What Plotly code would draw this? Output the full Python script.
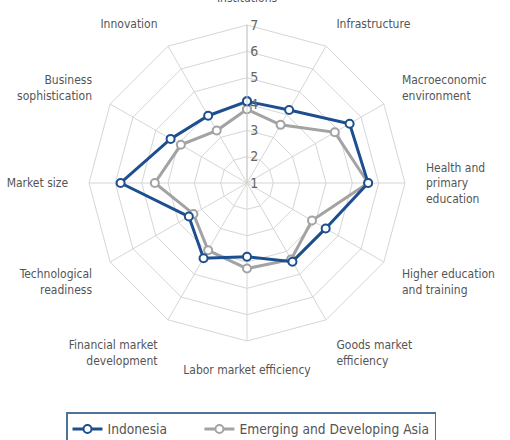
import plotly.graph_objects as go

categories = ["Institutions", "Infrastructure", "Macroeconomic environment",
              "Health and primary education", "Higher education and training",
              "Goods market efficiency", "Labor market efficiency",
              "Financial market development", "Technological readiness",
              "Market size", "Business sophistication", "Innovation"]
tick_labels = ["Institutions", "Infrastructure", "Macroeconomic<br>environment",
               "Health and<br>primary<br>education", "Higher education<br>and training",
               "Goods market<br>efficiency", "Labor market efficiency",
               "Financial market<br>development", "Technological<br>readiness",
               "Market size", "Business<br>sophistication", "Innovation"]
indonesia = [4.1, 4.2, 5.5, 5.6, 4.45, 4.45, 3.8, 4.3, 3.55, 5.8, 4.35, 3.95]
asia = [3.8, 3.55, 4.85, 5.6, 3.85, 4.35, 4.25, 3.95, 3.35, 4.5, 3.9, 3.3]
radial_ticks = [1, 2, 3, 4, 5, 6, 7]

FONT = "DejaVu Sans Condensed, Liberation Sans Narrow, Roboto, sans-serif"
NB = "\u00a0"

fig = go.Figure()
fig.add_trace(go.Scatterpolar(
    r=asia + asia[:1], theta=categories + categories[:1],
    name="Emerging and Developing Asia", mode="lines+markers",
    line=dict(color="#a3a3a3", width=3),
    marker=dict(symbol="circle", size=8, color="white",
                line=dict(color="#a3a3a3", width=2)),
))
fig.add_trace(go.Scatterpolar(
    r=indonesia + indonesia[:1], theta=categories + categories[:1],
    name="Indonesia" + NB * 7, mode="lines+markers",
    line=dict(color="#1d4f8f", width=3),
    marker=dict(symbol="circle", size=8, color="white",
                line=dict(color="#1d4f8f", width=2)),
))

W, H = 510, 440
fig.update_layout(
    width=W, height=H,
    margin=dict(l=0, r=0, t=25, b=99, autoexpand=False),
    paper_bgcolor="white",
    font=dict(family=FONT, size=12, color="#555555"),
    polar=dict(
        bgcolor="white",
        gridshape="linear",
        domain=dict(x=[89 / W, 405 / W], y=[0, 1]),
        radialaxis=dict(
            range=[1, 7], tickvals=radial_ticks, angle=90, side="clockwise",
            tickangle=90,
            showline=True, linecolor="#cccccc", linewidth=1,
            gridcolor="#d6d6d6", gridwidth=1,
            tickfont=dict(size=14, color="#666666", family=FONT),
            ticks="",
        ),
        angularaxis=dict(
            rotation=90, direction="clockwise",
            tickmode="array", tickvals=categories, ticktext=tick_labels,
            gridcolor="#d6d6d6", linecolor="#d6d6d6", linewidth=1,
            ticks="outside", ticklen=18, tickcolor="rgba(0,0,0,0)",
            tickfont=dict(size=12, color="#555555", family=FONT),
        ),
    ),
    showlegend=True,
    legend=dict(
        orientation="h", x=66 / W, xanchor="left", y=-0.225, yanchor="top",
        bordercolor="#4d7396", borderwidth=1.5, bgcolor="white",
        font=dict(size=13.7, color="#555555", family=FONT),
        traceorder="reversed",
        entrywidth=0,
        itemwidth=30,
    ),
)

fig.write_html("out.html")
